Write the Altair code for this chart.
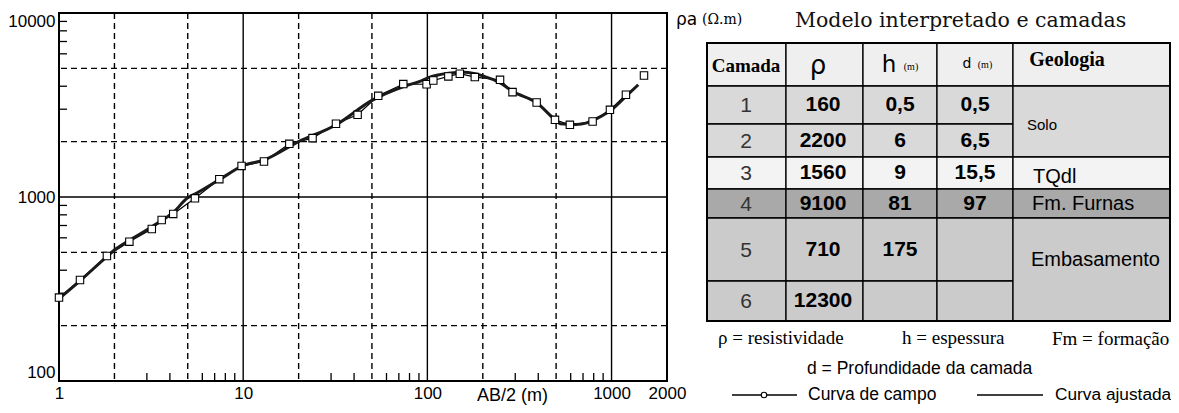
import altair as alt
import pandas as pd

# ---------------- data ----------------
FIELD_AB2 = [1.0, 1.30, 1.82, 2.41, 3.19, 3.61, 4.17, 5.47, 7.42, 9.8, 12.97, 17.8, 23.8,
             31.9, 41.8, 54.1, 74, 99, 107.7, 130, 150, 181, 248, 290, 392, 493, 594, 789,
             980, 1197, 1500]
FIELD_RHO = [284, 354, 478, 572, 670, 750, 809, 984, 1250, 1476, 1559, 1945, 2089,
             2500, 2797, 3548, 4110, 4100, 4297, 4520, 4677, 4487, 4335, 3715, 3263, 2627, 2467, 2573,
             2976, 3594, 4575]

FIT_AB2 = [1, 1.3, 1.8, 2, 2.4, 3.2, 4.2, 5, 5.5, 7.4, 10, 13, 20, 32, 50, 75, 91, 100, 130,
           160, 200, 250, 292, 392, 493, 525, 640, 734, 850, 1000, 1220, 1396]
FIT_RHO = [280, 350, 470, 515, 580, 690, 830, 990, 1040, 1240, 1480, 1590, 2000, 2470, 3350,
           4000, 4250, 4430, 4700, 4760, 4550, 4150, 3740, 3250, 2630, 2500, 2480, 2530, 2700,
           2980, 3590, 4075]

GRID_X_MAJOR = [10, 100, 1000]
GRID_X_MINOR = [2, 5, 20, 50, 200, 500]
GRID_Y_MAJOR = [1000]
GRID_Y_MINOR = [200, 500, 2000, 5000]
TICK_X = [3, 4, 6, 7, 8, 9, 30, 40, 60, 70, 80, 90, 300, 400, 600, 700, 800, 900]
TICK_Y = [300, 400, 600, 700, 800, 900, 3000, 4000, 6000, 7000, 8000, 9000]
X_LABELS = [1, 10, 100, 1000, 2000]
Y_LABELS = [100, 1000, 10000]

CAMADA = ["1", "2", "3", "4", "5", "6"]
RHO = ["160", "2200", "1560", "9100", "710", "12300"]
H = ["0,5", "6", "9", "81", "175", ""]
D = ["0,5", "6,5", "15,5", "97", "", ""]
GEOLOGIA = ["Solo", "TQdl", "Fm. Furnas", "Embasamento"]
GEO_SPAN = [(1, 2), (3, 3), (4, 4), (5, 6)]

# ---------------- layout (page pixels) ----------------
COLS = [707, 786, 863, 937, 1013, 1170]
ROWS = [43, 86, 124, 157, 189, 218, 281, 321]
ROW_FILL = ["#efefef", "#d9d9d9", "#d9d9d9", "#f3f3f3", "#a9a9a9", "#cbcbcb", "#cbcbcb"]
COL_X = [746, 823, 900, 975]
GEO_POS = [(1027, 125, 15), (1033, 177, 20), (1032, 204, 20), (1031, 260, 20)]

SANS = "Liberation Sans"
SERIF = "Liberation Serif"

# ---------------- plot ----------------
xs = alt.Scale(type="log", domain=[1, 2000], nice=False)
ys = alt.Scale(type="log", domain=[100, 10000], nice=False)
xaxis = alt.Axis(values=X_LABELS, format="d", title="AB/2 (m)", grid=False, ticks=False,
                 tickSize=0, domain=False, labelFont=SANS, labelFontSize=17,
                 labelColor="black", labelPadding=4, labelOverlap=False, labelFlush=False,
                 titleFont=SANS, titleFontSize=18, titleFontWeight="normal",
                 titleColor="black", titleX=453, titleY=14, titleAlign="center",
                 titleBaseline="middle")
yaxis = alt.Axis(values=Y_LABELS, format="d", title=None, grid=False, ticks=False,
                 tickSize=0, domain=False, labelFont=SANS, labelFontSize=17,
                 labelColor="black", labelPadding=4, labelOverlap=False, labelFlush=True)


def X(f):
    return alt.X(f, type="quantitative", scale=xs, axis=xaxis)


def Y(f):
    return alt.Y(f, type="quantitative", scale=ys, axis=yaxis)


def vals(v):
    return pd.DataFrame({"v": v})


dash_x = alt.Chart(vals(GRID_X_MINOR)).mark_rule(strokeDash=[6, 4], strokeWidth=1.4,
                                                  color="black").encode(x=X("v"))
dash_y = alt.Chart(vals(GRID_Y_MINOR)).mark_rule(strokeDash=[6, 4], strokeWidth=1.4,
                                                  color="black").encode(y=Y("v"))
solid_x = alt.Chart(vals(GRID_X_MAJOR)).mark_rule(strokeWidth=1.4, color="black").encode(x=X("v"))
solid_y = alt.Chart(vals(GRID_Y_MAJOR)).mark_rule(strokeWidth=1.4, color="black").encode(y=Y("v"))
ticks_l = alt.Chart(vals(TICK_Y)).mark_rule(strokeWidth=1.3, color="black").encode(
    y=Y("v"), x=alt.value(0), x2=alt.value(8))
ticks_b = alt.Chart(vals(TICK_X)).mark_rule(strokeWidth=1.3, color="black").encode(
    x=X("v"), y=alt.value(368), y2=alt.value(360))

field_df = pd.DataFrame({"ab2": FIELD_AB2, "rho": FIELD_RHO})
fit_df = pd.DataFrame({"ab2": FIT_AB2, "rho": FIT_RHO})

field_line = alt.Chart(field_df).transform_filter("datum.ab2 < 1400").mark_line(
    color="black", strokeWidth=1.2).encode(x=X("ab2"), y=Y("rho"))
fit_line = alt.Chart(fit_df).mark_line(color="#1a1a1a", strokeWidth=3,
                                       interpolate="monotone").encode(x=X("ab2"), y=Y("rho"))
field_pts = alt.Chart(field_df).mark_point(shape="square", size=55, filled=True, fill="white",
                                           stroke="black", strokeWidth=1.1, opacity=1).encode(
    x=X("ab2"), y=Y("rho"))

plot = alt.layer(dash_x, dash_y, solid_x, solid_y, ticks_l, ticks_b, field_line, fit_line,
                 field_pts)

# ---------------- table ----------------
txs = alt.Scale(domain=[59, 1059], range=[0, 1000], nice=False, zero=False)
tys = alt.Scale(domain=[13, 1013], range=[0, 1000], nice=False, zero=False)


def TX(f):
    return alt.X(f, type="quantitative", scale=txs, axis=None)


def TY(f):
    return alt.Y(f, type="quantitative", scale=tys, axis=None)


cells = []
for c in range(5):
    cells.append(dict(x=COLS[c], x2=COLS[c + 1], y=ROWS[0], y2=ROWS[1], fill=ROW_FILL[0]))
for r in range(1, 7):
    for c in range(4):
        cells.append(dict(x=COLS[c], x2=COLS[c + 1], y=ROWS[r], y2=ROWS[r + 1], fill=ROW_FILL[r]))
for (a, b) in GEO_SPAN:
    cells.append(dict(x=COLS[4], x2=COLS[5], y=ROWS[a], y2=ROWS[b + 1], fill=ROW_FILL[a]))
cells_df = pd.DataFrame(cells)

cell_layer = alt.Chart(cells_df).mark_rect(stroke="black", strokeWidth=1.3).encode(
    x=TX("x"), x2=alt.X2("x2"), y=TY("y"), y2=alt.Y2("y2"),
    color=alt.Color("fill:N", scale=None))
border = alt.Chart(pd.DataFrame([dict(x=COLS[0], x2=COLS[-1], y=ROWS[0], y2=ROWS[-1])])).mark_rect(
    fill=None, fillOpacity=0, stroke="black", strokeWidth=2).encode(
    x=TX("x"), x2=alt.X2("x2"), y=TY("y"), y2=alt.Y2("y2"))


def row_c(i):
    return (ROWS[i] + ROWS[i + 1]) / 2


def text_layer(items, font, weight="normal", align="center", color="black"):
    df = pd.DataFrame(items, columns=["t", "x", "y", "s"])
    return alt.Chart(df).mark_text(font=font, fontWeight=weight, align=align,
                                   baseline="middle", color=color).encode(
        x=TX("x"), y=TY("y"), text="t:N", size=alt.Size("s:Q", scale=None))


cam_items = [(CAMADA[i], COL_X[0], row_c(i + 1) + 1, 21) for i in range(6)]
val_items = []
for i in range(6):
    for col, arr in ((1, RHO), (2, H), (3, D)):
        if arr[i]:
            val_items.append((arr[i], COL_X[col], row_c(i + 1), 21))
geo_items = [(GEOLOGIA[k], GEO_POS[k][0], GEO_POS[k][1], GEO_POS[k][2]) for k in range(4)]

hdr_serif = text_layer([("Camada", 746, 66, 19), ("Geologia", 1067, 60, 20)], SERIF, "bold")
hdr_sans = text_layer([("ρ", 818, 66, 26), ("h", 889, 65, 23), ("d", 967, 64, 14)], "DejaVu Sans")
hdr_small = text_layer([("(m)", 911, 67, 10), ("(m)", 985, 65, 10)], SERIF)
cam_layer = text_layer(cam_items, SANS, color="#333333")
val_layer = text_layer(val_items, SANS, "bold")
geo_layer = text_layer(geo_items, SANS, align="left")

title_layer = text_layer([("Modelo interpretado e camadas", 795, 21, 20.5)], "DejaVu Serif",
                         align="left", color="#111111")
rho_a = text_layer([("ρa", 676, 20, 17)], "DejaVu Sans", align="left")
rho_unit = text_layer([("(Ω.m)", 702, 20, 14)], "DejaVu Serif", align="left")

notes_serif = text_layer([("ρ = resistividade", 718, 338, 19), ("h = espessura", 902, 338, 19),
                          ("Fm = formação", 1052, 339, 19)], SERIF, align="left")
notes_sans = text_layer([("d = Profundidade da camada", 807, 369, 17.5),
                         ("Curva de campo", 808, 395, 17.5),
                         ("Curva ajustada", 1055, 395, 17.3)], SANS, align="left")

leg_lines = alt.Chart(pd.DataFrame([dict(x=732, x2=797, y=395), dict(x=977, x2=1043, y=395)])).mark_rule(
    color="black", strokeWidth=1.3).encode(x=TX("x"), x2=alt.X2("x2"), y=TY("y"))
leg_pt = alt.Chart(pd.DataFrame([dict(x=764, y=395)])).mark_point(
    shape="circle", size=30, filled=True, fill="white", stroke="black", strokeWidth=1.1,
    opacity=1).encode(x=TX("x"), y=TY("y"))

table = alt.layer(cell_layer, border, hdr_serif, hdr_sans, hdr_small, cam_layer, val_layer,
                  geo_layer, title_layer, rho_a, rho_unit, notes_serif, notes_sans, leg_lines,
                  leg_pt)

chart = alt.layer(plot, table).resolve_scale(x="independent", y="independent").properties(
    width=608, height=368,
    autosize=alt.AutoSizeParams(type="none"),
    padding={"left": 51, "top": 5, "right": 504, "bottom": 24},
).configure_view(stroke="black", strokeWidth=2)

chart.save("out.html", embed_options={"renderer": "svg", "actions": False})
